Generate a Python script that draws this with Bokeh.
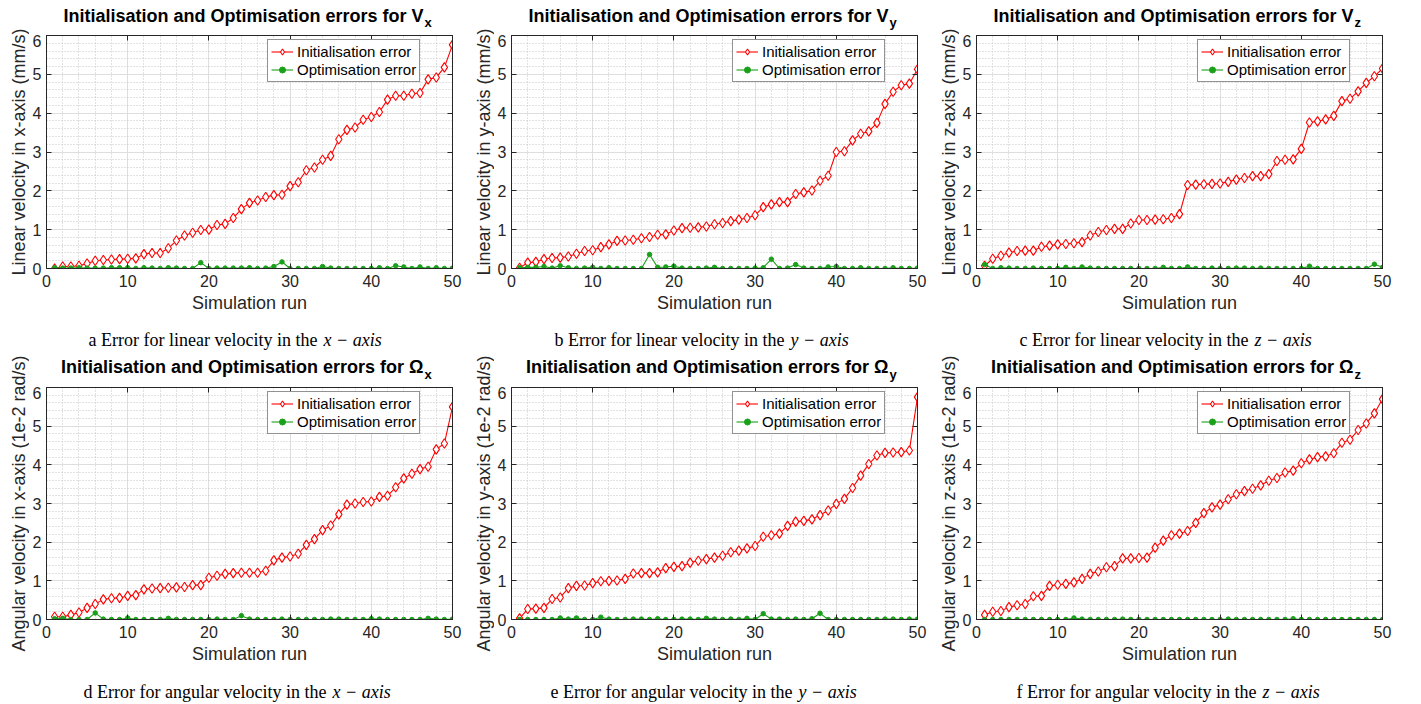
import math
from bokeh.plotting import figure
from bokeh.models import Range1d, SingleIntervalTicker, LinearAxis, Label, CustomLabelingPolicy
from bokeh.layouts import column, row
from bokeh.embed import file_html
from bokeh.resources import INLINE

runs = list(range(1, 51))

vx_init = [0.0, 0.05, 0.05, 0.07, 0.13, 0.2, 0.22, 0.23, 0.24, 0.25,
           0.26, 0.37, 0.4, 0.4, 0.52, 0.72, 0.85, 0.92, 0.99, 1.0,
           1.12, 1.15, 1.3, 1.53, 1.69, 1.75, 1.84, 1.89, 1.9, 2.12,
           2.22, 2.53, 2.6, 2.8, 2.9, 3.33, 3.57, 3.63, 3.83, 3.9,
           4.03, 4.35, 4.45, 4.45, 4.5, 4.52, 4.87, 4.92, 5.18, 5.76]
vx_opt = [0.02, 0.01, 0.01, 0.02, 0.01, 0.01, 0.01, 0.02, 0.02, 0.02,
          0.0, 0.02, 0.01, 0.0, 0.02, 0.01, 0.0, 0.0, 0.15, 0.0,
          0.01, 0.01, 0.01, 0.01, 0.02, 0.0, 0.01, 0.05, 0.17, 0.0,
          0.0, 0.0, 0.0, 0.05, 0.01, 0.0, 0.0, 0.0, 0.0, 0.0,
          0.02, 0.0, 0.07, 0.04, 0.0, 0.04, 0.0, 0.02, 0.0, 0.01]

vy_init = [0.02, 0.15, 0.17, 0.24, 0.27, 0.28, 0.31, 0.38, 0.45, 0.47,
           0.55, 0.62, 0.71, 0.72, 0.74, 0.78, 0.81, 0.87, 0.88, 0.98,
           1.04, 1.05, 1.06, 1.08, 1.14, 1.17, 1.22, 1.26, 1.3, 1.37,
           1.58, 1.65, 1.71, 1.71, 1.92, 1.96, 2.01, 2.26, 2.39, 3.0,
           3.02, 3.3, 3.47, 3.53, 3.75, 4.24, 4.55, 4.72, 4.76, 5.13]
vy_opt = [0.02, 0.03, 0.03, 0.05, 0.01, 0.07, 0.02, 0.0, 0.01, 0.03,
          0.0, 0.02, 0.0, 0.0, 0.0, 0.0, 0.36, 0.03, 0.04, 0.06,
          0.01, 0.0, 0.0, 0.01, 0.03, 0.0, 0.0, 0.0, 0.0, 0.01,
          0.02, 0.24, 0.0, 0.01, 0.1, 0.01, 0.0, 0.0, 0.04, 0.05,
          0.0, 0.0, 0.02, 0.0, 0.0, 0.0, 0.02, 0.0, 0.0, 0.01]

vz_init = [0.07, 0.25, 0.33, 0.41, 0.45, 0.46, 0.46, 0.56, 0.59, 0.62,
           0.63, 0.65, 0.68, 0.85, 0.94, 0.99, 1.02, 1.02, 1.16, 1.25,
           1.25, 1.26, 1.27, 1.3, 1.4, 2.15, 2.16, 2.17, 2.18, 2.19,
           2.23, 2.29, 2.33, 2.38, 2.38, 2.43, 2.77, 2.8, 2.81, 3.08,
           3.76, 3.79, 3.84, 3.93, 4.31, 4.37, 4.56, 4.78, 4.95, 5.15]
vz_opt = [0.1, 0.0, 0.02, 0.01, 0.0, 0.0, 0.01, 0.0, 0.0, 0.0,
          0.03, 0.0, 0.04, 0.01, 0.0, 0.0, 0.0, 0.0, 0.0, 0.0,
          0.0, 0.0, 0.03, 0.0, 0.0, 0.04, 0.0, 0.0, 0.01, 0.0,
          0.0, 0.01, 0.01, 0.0, 0.01, 0.0, 0.0, 0.0, 0.0, 0.0,
          0.06, 0.0, 0.0, 0.0, 0.0, 0.0, 0.0, 0.0, 0.11, 0.03]

wx_init = [0.07, 0.07, 0.12, 0.18, 0.3, 0.4, 0.52, 0.55, 0.56, 0.61,
           0.63, 0.78, 0.8, 0.81, 0.82, 0.83, 0.84, 0.89, 0.89, 1.08,
           1.13, 1.18, 1.2, 1.21, 1.21, 1.21, 1.26, 1.53, 1.6, 1.63,
           1.7, 1.93, 2.08, 2.31, 2.43, 2.72, 2.97, 3.0, 3.04, 3.05,
           3.17, 3.2, 3.42, 3.65, 3.77, 3.89, 3.95, 4.4, 4.55, 5.5]
wx_opt = [0.02, 0.03, 0.0, 0.0, 0.0, 0.17, 0.01, 0.0, 0.0, 0.04,
          0.0, 0.0, 0.0, 0.0, 0.03, 0.0, 0.0, 0.0, 0.0, 0.0,
          0.01, 0.0, 0.0, 0.1, 0.01, 0.0, 0.0, 0.0, 0.01, 0.0,
          0.0, 0.0, 0.0, 0.0, 0.01, 0.01, 0.0, 0.0, 0.0, 0.02,
          0.01, 0.0, 0.0, 0.0, 0.0, 0.0, 0.03, 0.01, 0.0, 0.01]

wy_init = [0.03, 0.27, 0.28, 0.3, 0.53, 0.57, 0.81, 0.87, 0.88, 0.94,
           0.99, 1.0, 1.01, 1.05, 1.19, 1.2, 1.2, 1.22, 1.33, 1.36,
           1.38, 1.47, 1.52, 1.56, 1.6, 1.65, 1.74, 1.78, 1.84, 1.9,
           2.14, 2.18, 2.22, 2.42, 2.53, 2.55, 2.59, 2.7, 2.82, 2.99,
           3.12, 3.4, 3.72, 4.02, 4.24, 4.31, 4.32, 4.33, 4.37, 5.75]
wy_opt = [0.0, 0.0, 0.0, 0.0, 0.0, 0.04, 0.01, 0.04, 0.0, 0.0,
          0.06, 0.01, 0.0, 0.0, 0.01, 0.01, 0.0, 0.02, 0.0, 0.0,
          0.01, 0.01, 0.0, 0.03, 0.01, 0.0, 0.01, 0.0, 0.03, 0.0,
          0.15, 0.01, 0.01, 0.0, 0.01, 0.0, 0.02, 0.16, 0.0, 0.0,
          0.0, 0.0, 0.0, 0.0, 0.0, 0.01, 0.01, 0.0, 0.01, 0.01]

wz_init = [0.12, 0.2, 0.22, 0.32, 0.37, 0.4, 0.6, 0.61, 0.87, 0.9,
           0.92, 0.96, 1.05, 1.18, 1.24, 1.35, 1.38, 1.58, 1.58, 1.59,
           1.6, 1.86, 2.04, 2.18, 2.22, 2.29, 2.5, 2.75, 2.9, 2.97,
           3.11, 3.24, 3.32, 3.38, 3.47, 3.59, 3.66, 3.8, 3.85, 4.04,
           4.14, 4.2, 4.22, 4.3, 4.57, 4.65, 4.9, 5.07, 5.33, 5.7]
wz_opt = [0.0, 0.0, 0.0, 0.0, 0.0, 0.0, 0.0, 0.0, 0.0, 0.0,
          0.0, 0.04, 0.01, 0.0, 0.0, 0.0, 0.0, 0.01, 0.0, 0.0,
          0.0, 0.0, 0.0, 0.0, 0.0, 0.0, 0.0, 0.0, 0.0, 0.0,
          0.01, 0.0, 0.0, 0.0, 0.0, 0.0, 0.0, 0.0, 0.02, 0.0,
          0.0, 0.0, 0.0, 0.0, 0.0, 0.0, 0.0, 0.0, 0.0, 0.0]

title_main = "Initialisation and Optimisation errors for "
symbols = ["V", "V", "V", "\u03a9", "\u03a9", "\u03a9"]
subs = ["x", "y", "z", "x", "y", "z"]
ylabels = ["Linear velocity in x-axis (mm/s)",
           "Linear velocity in y-axis (mm/s)",
           "Linear velocity in z-axis (mm/s)",
           "Angular velocity in x-axis (1e-2 rad/s)",
           "Angular velocity in y-axis (1e-2 rad/s)",
           "Angular velocity in z-axis (1e-2 rad/s)"]
cap_prefix = ["a Error for linear velocity in the",
              "b Error for linear velocity in the",
              "c Error for linear velocity in the",
              "d Error for angular velocity in the",
              "e Error for angular velocity in the",
              "f Error for angular velocity in the"]
cap_axis = ["x \u2212 axis", "y \u2212 axis", "z \u2212 axis",
            "x \u2212 axis", "y \u2212 axis", "z \u2212 axis"]
cap_split = [271, 273, 272, 280, 281, 280]
init_data = [vx_init, vy_init, vz_init, wx_init, wy_init, wz_init]
opt_data = [vx_opt, vy_opt, vz_opt, wx_opt, wy_opt, wz_opt]
xlabel = "Simulation run"
legend_labels = ["Initialisation error", "Optimisation error"]

RED = "#ff0000"
GREEN = "#1aa01a"
AX = "#262626"
SANS = "Liberation Sans"
SERIF = "Liberation Serif"

CELL_H = 352
LBL_W = 29
MAIN_W = 436
ML = 16          # main figure left border
FW = 407         # frame width
MB = 50          # main figure bottom border
TH = 34          # title strip height


def text_fig(w, h):
    f = figure(width=w, height=h, output_backend="svg", toolbar_location=None,
               title_location=None, x_axis_type=None, y_axis_type=None,
               min_border_left=0, min_border_right=0,
               min_border_top=0, min_border_bottom=0,
               x_range=Range1d(0, 1), y_range=Range1d(0, 1))
    f.outline_line_color = None
    f.background_fill_color = "white"
    f.border_fill_color = "white"
    return f


def style_axis(ax, show_labels=True):
    ax.axis_line_color = AX
    ax.axis_line_width = 1
    ax.major_tick_in = 5
    ax.major_tick_out = 0
    ax.minor_tick_in = 0
    ax.minor_tick_out = 0
    ax.major_tick_line_color = AX
    ax.major_label_text_font = SANS
    ax.major_label_text_color = AX
    ax.axis_label_standoff = 0
    if show_labels:
        ax.major_label_text_font_size = "16px"
    else:
        ax.major_label_text_font_size = "0px"
        ax.major_label_standoff = 0
        ax.major_label_policy = CustomLabelingPolicy(code="""
for (const i of Array.from(indices)) indices.unset(i)
return indices
""")


def make_cell(i):
    top_row = i < 3
    FH = 233 if top_row else 232
    main_h = 1 + FH + MB
    CH = CELL_H - TH - main_h             # caption strip height

    # ---- main plot ----
    p = figure(width=MAIN_W, height=main_h, output_backend="svg",
               toolbar_location=None, title_location=None,
               x_range=Range1d(0, 50), y_range=Range1d(0, 6),
               min_border_left=ML, min_border_right=MAIN_W - ML - FW,
               min_border_top=1, min_border_bottom=MB)
    p.background_fill_color = "white"
    p.border_fill_color = "white"
    p.outline_line_color = AX
    p.outline_line_width = 1

    xt = SingleIntervalTicker(interval=10, num_minor_ticks=5)
    yt = SingleIntervalTicker(interval=1, num_minor_ticks=5)
    p.xaxis[0].ticker = xt
    p.yaxis[0].ticker = yt
    p.xgrid[0].ticker = xt
    p.ygrid[0].ticker = yt
    for g in (p.xgrid[0], p.ygrid[0]):
        g.grid_line_color = "#dedede"
        g.grid_line_width = 1
        g.minor_grid_line_color = "#c4c4c4"
        g.minor_grid_line_dash = "1 2"
        g.minor_grid_line_width = 1

    style_axis(p.xaxis[0])
    style_axis(p.yaxis[0])
    p.xaxis[0].major_label_standoff = 6
    p.yaxis[0].major_label_standoff = 5
    ax = p.xaxis[0]
    ax.axis_label = xlabel
    ax.axis_label_text_font = SANS
    ax.axis_label_text_font_size = "18px"
    ax.axis_label_text_font_style = "normal"
    ax.axis_label_text_color = AX
    ax.axis_label_standoff = 3

    top_ax = LinearAxis(ticker=xt)
    right_ax = LinearAxis(ticker=yt)
    style_axis(top_ax, False)
    style_axis(right_ax, False)
    p.add_layout(top_ax, "above")
    p.add_layout(right_ax, "right")

    p.line(runs, init_data[i], line_color=RED, line_width=1.1,
           legend_label=legend_labels[0])
    p.scatter(runs, init_data[i], marker="diamond", size=9.5, line_color=RED,
              fill_color="white", line_width=1.1, legend_label=legend_labels[0])
    p.line(runs, opt_data[i], line_color=GREEN, line_width=1.1,
           legend_label=legend_labels[1])
    p.scatter(runs, opt_data[i], marker="circle", size=4.5, line_color=GREEN,
              fill_color=GREEN, legend_label=legend_labels[1])

    lg = p.legend[0]
    lg.location = (221, FH - 6 - 41)
    lg.label_text_font = SANS
    lg.label_text_font_size = "15px"
    lg.label_text_color = "#000000"
    lg.glyph_width = 22
    lg.glyph_height = 15
    lg.label_height = 15
    lg.label_standoff = 4
    lg.spacing = 1
    lg.padding = 3
    lg.margin = 0
    lg.border_line_color = AX
    lg.border_line_width = 1.3
    lg.background_fill_color = "white"
    lg.background_fill_alpha = 1

    # ---- title strip (frame aligned with the plot frame) ----
    t = text_fig(MAIN_W, TH)
    xr = 377
    main_y = 19 if top_row else 20
    t.add_layout(Label(x=xr, y=main_y, x_units="screen", y_units="screen",
                       text=title_main + symbols[i], text_font=SANS,
                       text_font_size="18px", text_font_style="bold",
                       text_color="#000000", text_align="right",
                       text_baseline="alphabetic"))
    t.add_layout(Label(x=xr + 1, y=12, x_units="screen", y_units="screen",
                       text=subs[i], text_font=SANS, text_font_size="13px",
                       text_font_style="bold", text_color="#000000",
                       text_align="left", text_baseline="alphabetic"))

    # ---- caption strip ----
    c = text_fig(MAIN_W, CH)
    sx = cap_split[i]
    c.add_layout(Label(x=sx, y=13, x_units="screen", y_units="screen",
                       text=cap_prefix[i], text_font=SERIF, text_font_size="18px",
                       text_color="#000000", text_align="right",
                       text_baseline="alphabetic"))
    c.add_layout(Label(x=sx + 6, y=13, x_units="screen", y_units="screen",
                       text=cap_axis[i], text_font=SERIF, text_font_size="18px",
                       text_font_style="italic", text_color="#000000",
                       text_align="left", text_baseline="alphabetic"))

    # ---- y label strip ----
    yl = text_fig(LBL_W, CELL_H)
    frame_center_from_top = TH + 1 + FH / 2
    yl.add_layout(Label(x=18, y=CELL_H - frame_center_from_top,
                        x_units="screen", y_units="screen", angle=math.pi / 2,
                        text=ylabels[i], text_font=SANS, text_font_size="18px",
                        text_color=AX, text_align="center",
                        text_baseline="middle"))

    return row(yl, column(t, p, c))


cells = [make_cell(i) for i in range(6)]
layout = column(row(*cells[:3]), row(*cells[3:]))

open("out.html", "w").write(file_html(layout, INLINE))
